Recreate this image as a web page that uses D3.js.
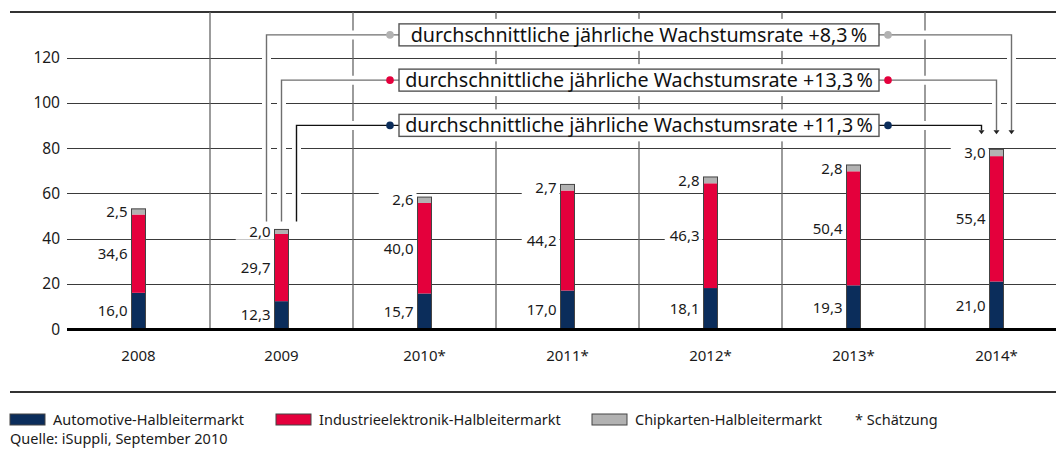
<!DOCTYPE html>
<html>
<head>
<meta charset="utf-8">
<script src="https://cdn.jsdelivr.net/npm/d3@7"></script>
<style>
  body { margin: 0; background: #fff; }
  svg { display: block; font-family: "Noto Sans", sans-serif; }
</style>
</head>
<body>
<div id="chart"></div>
<script>
// Data (Mrd. US-$)
const years = ["2008", "2009", "2010*", "2011*", "2012*", "2013*", "2014*"];
const automotive = [16.0, 12.3, 15.7, 17.0, 18.1, 19.3, 21.0];
const industrie = [34.6, 29.7, 40.0, 44.2, 46.3, 50.4, 55.4];
const chipkarten = [2.5, 2.0, 2.6, 2.7, 2.8, 2.8, 3.0];
const yTicks = [0, 20, 40, 60, 80, 100, 120];
const seriesKeys = ["auto", "indu", "chip"];
const seriesNames = ["Automotive-Halbleitermarkt", "Industrieelektronik-Halbleitermarkt", "Chipkarten-Halbleitermarkt"];
const seriesColors = ["#0b2d5b", "#e4003c", "#b2b2b2"];
// growth rate callouts: series index + label, top to bottom
const rateSeries = [2, 1, 0];
const rateLabels = [
  "durchschnittliche jährliche Wachstumsrate +8,3\u2009%",
  "durchschnittliche jährliche Wachstumsrate +13,3\u2009%",
  "durchschnittliche jährliche Wachstumsrate +11,3\u2009%"
];
const noteText = "* Schätzung";
const sourceText = "Quelle: iSuppli, September 2010";

drawChart();

function drawChart() {
  const W = 1056, H = 450;
  const left = 67, right = 1056;
  const barW = 14;

  const svg = d3.select("#chart").append("svg")
    .attr("width", W).attr("height", H);

  const rows = years.map((yr, i) => ({
    year: yr, auto: automotive[i], indu: industrie[i], chip: chipkarten[i]
  }));
  const stacked = d3.stack().keys(seriesKeys)(rows);

  // Scales
  const x = d3.scaleBand().domain(years).range([left, left + 143 * years.length]).padding(0);
  const y = d3.scaleLinear().domain([0, 120]).range([329, 57.5]);
  const cx = d => x(d) + x.bandwidth() / 2;

  // top rule
  svg.append("line")
    .attr("x1", 10).attr("x2", right).attr("y1", 12).attr("y2", 12)
    .attr("stroke", "#333").attr("stroke-width", 2);

  // horizontal grid
  svg.append("g").selectAll("line")
    .data(yTicks.filter(t => t > 0))
    .join("line")
    .attr("x1", left).attr("x2", right)
    .attr("y1", d => Math.round(y(d)) + 0.5).attr("y2", d => Math.round(y(d)) + 0.5)
    .attr("stroke", "#3a3a3a").attr("stroke-width", 1);

  // category dividers
  svg.append("g").selectAll("line")
    .data(years.slice(1))
    .join("line")
    .attr("x1", d => x(d)).attr("x2", d => x(d))
    .attr("y1", 12).attr("y2", y(0))
    .attr("stroke", "#666").attr("stroke-width", 1.3);

  // value labels setup
  const labelData = [];
  stacked.forEach(layer => {
    layer.forEach((seg, i) => {
      labelData.push({
        year: years[i],
        value: seg[1] - seg[0],
        mid: (seg[0] + seg[1]) / 2
      });
    });
  });
  const fmt = v => v.toFixed(1).replace(".", ",");

  // measure reference label width
  const probe = svg.append("text").attr("font-size", 15).text("00,0");
  const refW = probe.node().getComputedTextLength();
  probe.remove();

  // white label backgrounds (knock out grid lines)
  svg.append("g").selectAll("rect")
    .data(labelData)
    .join("rect")
    .attr("x", d => cx(d.year) - barW / 2 - 4 - refW - 5)
    .attr("width", refW + 8)
    .attr("y", d => y(d.mid) - 8)
    .attr("height", 16)
    .attr("fill", "#fff");

  // growth callouts
  const totals = rows.map(r => r.auto + r.indu + r.chip);
  const x0 = cx(years[1]), x1 = cx(years[years.length - 1]);
  const startY = y(totals[1]) - 8;
  const tipY = y(totals[totals.length - 1]) - 15;
  const boxCx = x(years[4]), boxW = 480, boxH = 22;
  const callouts = rateSeries.map((s, i) => ({
    series: s,
    label: rateLabels[i],
    level: y(130 - i * 20),
    lx: x0 - 15 + i * 15,
    rx: x1 + 15 - i * 15,
    lineColor: s === 0 ? "#111" : "#6f6f6f"
  }));
  const pathOf = c => `M${c.lx},${startY}V${c.level}H${c.rx}V${tipY - 4}`;

  // halos
  const halo = svg.append("g");
  halo.selectAll("path").data(callouts).join("path")
    .attr("d", pathOf).attr("fill", "none")
    .attr("stroke", "#fff").attr("stroke-width", 9);
  halo.selectAll("rect").data(callouts).join("rect")
    .attr("x", boxCx - boxW / 2).attr("width", boxW)
    .attr("y", c => c.level - boxH / 2).attr("height", boxH)
    .attr("fill", "#fff").attr("stroke", "#fff").attr("stroke-width", 10);

  const callG = svg.append("g");
  callG.selectAll("path.conn").data(callouts).join("path")
    .attr("class", "conn")
    .attr("d", pathOf).attr("fill", "none")
    .attr("stroke", c => c.lineColor).attr("stroke-width", 1.4);
  callG.selectAll("path.arrow").data(callouts).join("path")
    .attr("class", "arrow")
    .attr("d", c => `M${c.rx - 3},${tipY - 4}L${c.rx + 3},${tipY - 4}L${c.rx},${tipY}Z`)
    .attr("fill", "#222");
  [-1, 1].forEach(side => {
    callG.selectAll("circle.d" + side).data(callouts).join("circle")
      .attr("class", "d" + side)
      .attr("cx", boxCx + side * (boxW / 2 + 9))
      .attr("cy", c => c.level)
      .attr("r", 3.8)
      .attr("fill", c => seriesColors[c.series]);
  });
  callG.selectAll("rect").data(callouts).join("rect")
    .attr("x", boxCx - boxW / 2).attr("width", boxW)
    .attr("y", c => c.level - boxH / 2).attr("height", boxH)
    .attr("fill", "#fff").attr("stroke", "#555").attr("stroke-width", 1.4);
  callG.selectAll("text").data(callouts).join("text")
    .attr("x", boxCx).attr("y", c => c.level)
    .attr("dy", "0.36em")
    .attr("text-anchor", "middle")
    .attr("font-size", 19.7)
    .attr("fill", "#111")
    .text(c => c.label);

  // bars
  const barG = svg.append("g");
  stacked.forEach((layer, k) => {
    barG.append("g").selectAll("rect")
      .data(layer)
      .join("rect")
      .attr("x", d => cx(d.data.year) - barW / 2)
      .attr("width", barW)
      .attr("y", d => y(d[1]))
      .attr("height", d => y(d[0]) - y(d[1]))
      .attr("fill", seriesColors[k]);
  });
  barG.append("g").selectAll("rect")
    .data(rows)
    .join("rect")
    .attr("x", d => cx(d.year) - barW / 2)
    .attr("width", barW)
    .attr("y", (d, i) => y(totals[i]))
    .attr("height", (d, i) => y(0) - y(totals[i]))
    .attr("fill", "none").attr("stroke", "#444").attr("stroke-width", 1);

  // zero line
  svg.append("line")
    .attr("x1", left).attr("x2", right).attr("y1", y(0) + 0.5).attr("y2", y(0) + 0.5)
    .attr("stroke", "#000").attr("stroke-width", 3);

  // value labels
  svg.append("g").selectAll("text")
    .data(labelData)
    .join("text")
    .attr("x", d => cx(d.year) - barW / 2 - 4)
    .attr("y", d => y(d.mid))
    .attr("dy", "0.36em")
    .attr("text-anchor", "end")
    .attr("font-size", 15)
    .attr("fill", "#1a1a1a")
    .text(d => fmt(d.value));

  // y tick labels
  svg.append("g").selectAll("text")
    .data(yTicks)
    .join("text")
    .attr("x", 60).attr("y", d => y(d))
    .attr("dy", "0.36em")
    .attr("text-anchor", "end")
    .attr("font-size", 15.5)
    .attr("fill", "#1a1a1a")
    .text(d => d);

  // year labels
  svg.append("g").selectAll("text")
    .data(years)
    .join("text")
    .attr("x", d => cx(d)).attr("y", 356)
    .attr("dy", "0.36em")
    .attr("text-anchor", "middle")
    .attr("font-size", 15)
    .attr("fill", "#1a1a1a")
    .text(d => d);

  // bottom rule
  svg.append("line")
    .attr("x1", 10).attr("x2", right).attr("y1", 392).attr("y2", 392)
    .attr("stroke", "#333").attr("stroke-width", 2);

  // legend
  const legX = [10, 276, 592];
  const leg = svg.append("g").selectAll("g")
    .data(seriesNames)
    .join("g")
    .attr("transform", (d, i) => `translate(${legX[i]},414)`);
  leg.append("rect")
    .attr("width", 35).attr("height", 11)
    .attr("fill", (d, i) => seriesColors[i])
    .attr("stroke", "#444").attr("stroke-width", 1);
  leg.append("text")
    .attr("x", 43).attr("y", 6)
    .attr("dy", "0.36em")
    .attr("font-size", 14.5)
    .attr("fill", "#1a1a1a")
    .text(d => d);
  svg.append("text")
    .attr("x", 855).attr("y", 420).attr("dy", "0.36em")
    .attr("font-size", 14.5).attr("fill", "#1a1a1a")
    .text(noteText);
  svg.append("text")
    .attr("x", 10).attr("y", 439).attr("dy", "0.36em")
    .attr("font-size", 14.5).attr("fill", "#1a1a1a")
    .text(sourceText);
}
</script>
</body>
</html>
